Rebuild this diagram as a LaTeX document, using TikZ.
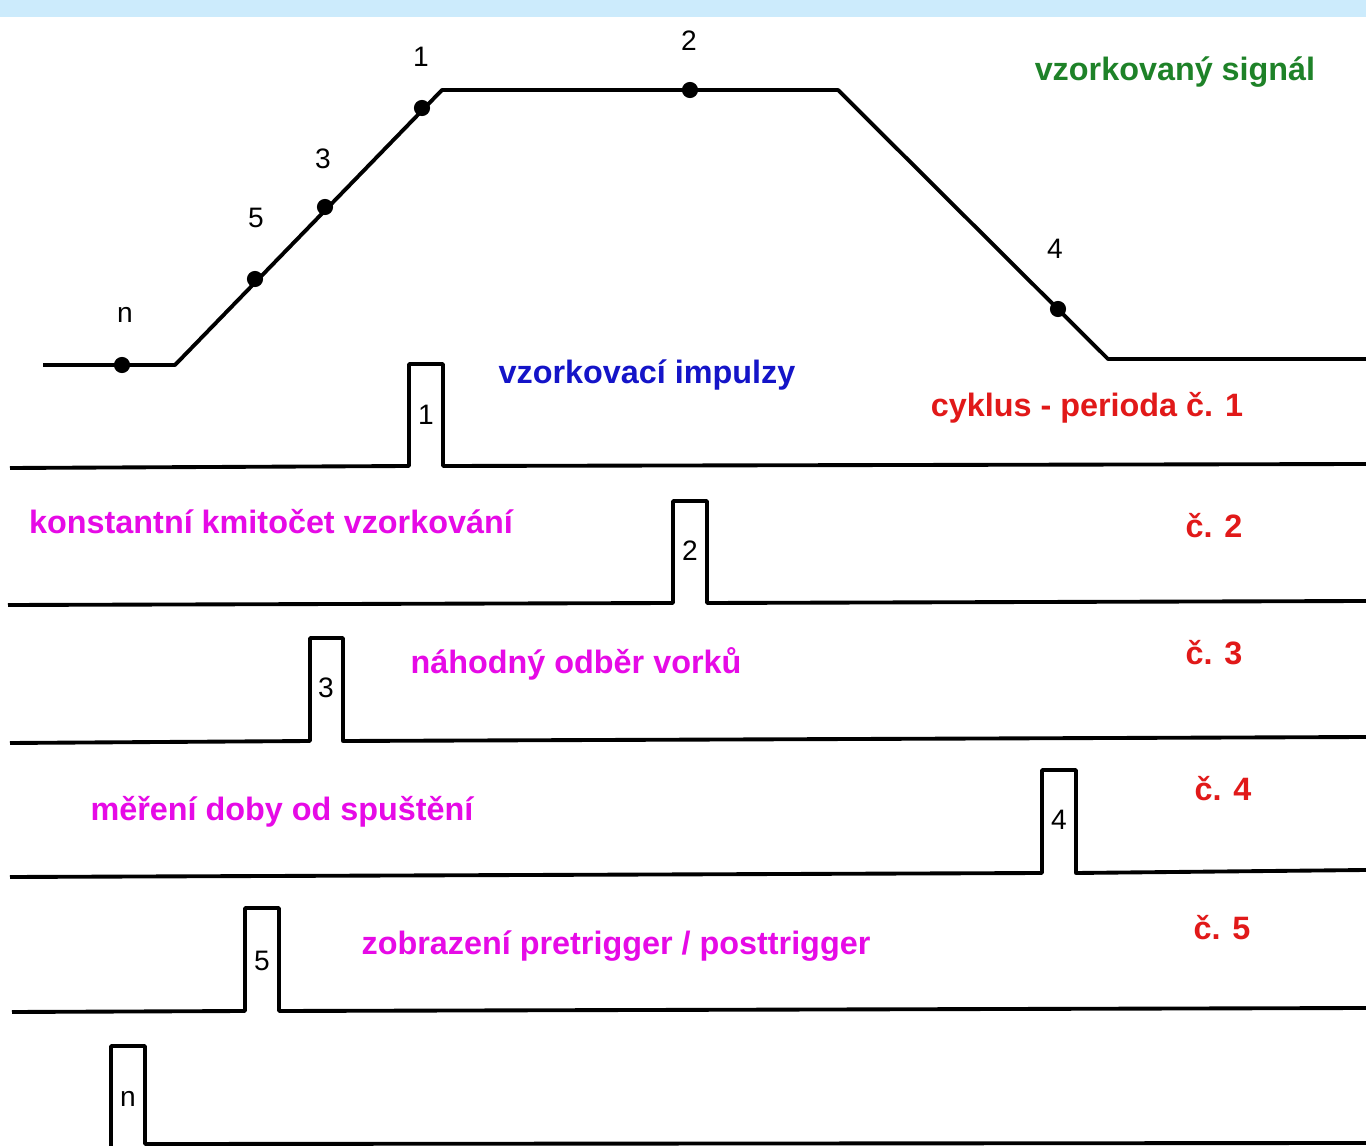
\documentclass[tikz,border=0pt]{standalone}
\usepackage{fontspec}
\setmainfont{Liberation Sans}
\definecolor{topband}{RGB}{204,235,252}
\definecolor{sgreen}{RGB}{30,130,40}
\definecolor{sblue}{RGB}{20,20,200}
\definecolor{sred}{RGB}{225,25,25}
\definecolor{smagenta}{RGB}{230,10,230}
\usepackage{tikz}
\usetikzlibrary{positioning}

\begin{document}
\begin{tikzpicture}[x=0.01cm, y=-0.01cm,
    wave/.style={line width=1.1pt, line join=round},
    dotmark/.style={fill=black},
    num/.style={inner sep=0pt, font=\fontsize{8}{9}\selectfont},
    lbl/.style={inner sep=0pt, font=\fontsize{9.2}{11}\selectfont\bfseries}]
    % Page and top band
    \useasboundingbox (0,0) rectangle (1366,1146);
    \fill[white] (0,0) rectangle (1366,1146);
    \fill[topband] (0,0) rectangle (1366,17);

    % Sampled signal
    \coordinate (pn) at (122,365);
    \coordinate (p5) at (255,279);
    \coordinate (p3) at (325,207);
    \coordinate (p1) at (422,108);
    \coordinate (p2) at (690,90);
    \coordinate (p4) at (1058,309);
    \draw[wave] (43,365) -- (175,365) -- (442,90) -- (838,90) -- (1108,359) -- (1366,359);
    \foreach \p in {pn,p5,p3,p1,p2,p4}
        \fill[dotmark] (\p) circle (2.3pt);
    \node[num] (ln) at (125,315) {n};
    \node[num] (l5) at (256,218) {5};
    \node[num] (l3) at (323,159) {3};
    \node[num] (l1) at (421,57) {1};
    \node[num] (l2) at (689,41) {2};
    \node[num] (l4) at (1055,249) {4};
    \node[lbl, text=sgreen] (title) at (1175,72) {vzorkovaný signál};

    % Sampling pulses
    \draw[wave] (10,468) -- (409,466) -- (409,364) -- (443,364) -- (443,466) -- (1366,464);
    \node[num] (i1) at (426,415) {1};
    \draw[wave] (8,605) -- (673,603) -- (673,501) -- (707,501) -- (707,603) -- (1366,601);
    \node[num] (i2) at (690,551) {2};
    \draw[wave] (10,743) -- (310,741) -- (310,638) -- (343,638) -- (343,741) -- (1366,737);
    \node[num] (i3) at (326,688) {3};
    \draw[wave] (10,877) -- (1042,873) -- (1042,770) -- (1076,770) -- (1076,873) -- (1366,870);
    \node[num] (i4) at (1059,820) {4};
    \draw[wave] (12,1012) -- (245,1011) -- (245,908) -- (279,908) -- (279,1011) -- (1366,1008);
    \node[num] (i5) at (262,961) {5};
    \draw[wave] (111,1150) -- (111,1046) -- (145,1046) -- (145,1144) -- (1366,1143);
    \node[num] (in) at (128,1099) {n};

    % Captions
    \node[lbl, text=sblue] (pulses) at (647,375) {vzorkovací impulzy};
    \node[lbl, text=sred] (c1) at (1087,408) {cyklus - perioda č. 1};
    \node[lbl, text=smagenta] (m1) at (271,522) {konstantní kmitočet vzorkování};
    \node[lbl, text=sred] (c2) at (1214,526) {č. 2};
    \node[lbl, text=smagenta] (m2) at (576,664) {náhodný odběr vorků};
    \node[lbl, text=sred] (c3) at (1214,653) {č. 3};
    \node[lbl, text=smagenta] (m3) at (282,812) {měření doby od spuštění};
    \node[lbl, text=sred] (c4) at (1223,789) {č. 4};
    \node[lbl, text=smagenta] (m4) at (616,946) {zobrazení pretrigger / posttrigger};
    \node[lbl, text=sred] (c5) at (1222,928) {č. 5};
\end{tikzpicture}
\end{document}
